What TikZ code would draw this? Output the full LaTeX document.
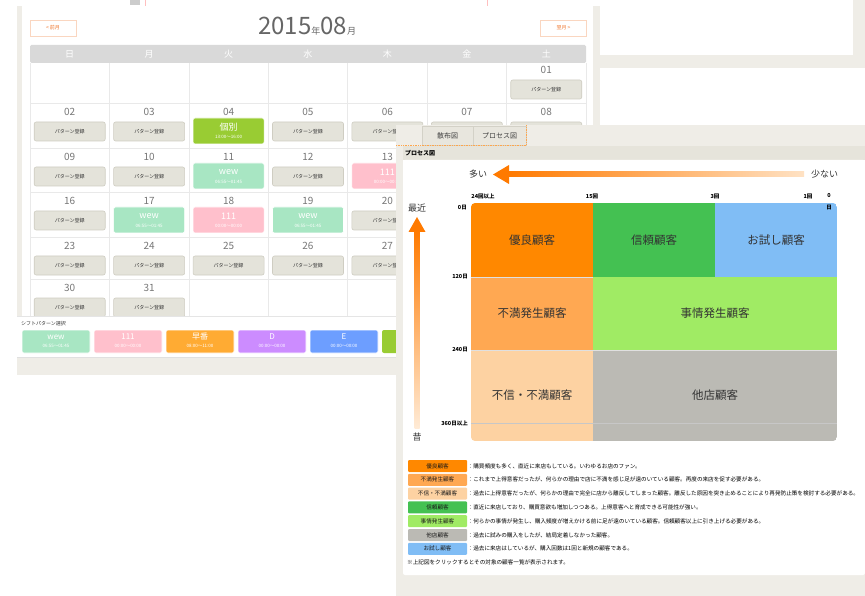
\documentclass[tikz,border=0pt]{standalone}
\usepackage{fontspec}
\setmainfont{Noto Sans CJK JP}
\newcommand{\fs}[1]{\fontsize{#1}{#1}\selectfont}
\definecolor{beige}{HTML}{EFEDE7}
\definecolor{gridc}{HTML}{E9E9E9}
\definecolor{hdr}{HTML}{D9D9D9}
\definecolor{btnfill}{HTML}{E4E3DA}
\definecolor{btnline}{HTML}{CFCDC2}
\definecolor{numgray}{HTML}{777777}
\definecolor{titlegray}{HTML}{666666}
\definecolor{navline}{HTML}{FAD6C0}
\definecolor{navtext}{HTML}{F07830}
\definecolor{cOrange}{HTML}{FF8800}
\definecolor{cGreen}{HTML}{44C152}
\definecolor{cBlue}{HTML}{80BDF5}
\definecolor{cOrangeB}{HTML}{FFA852}
\definecolor{cLime}{HTML}{A0EB64}
\definecolor{cPeach}{HTML}{FDD2A2}
\definecolor{cGray}{HTML}{BBBAB4}
\definecolor{mint}{HTML}{A8E6C3}
\definecolor{pinkc}{HTML}{FFC0CC}
\definecolor{apple}{HTML}{99CC33}
\definecolor{shiftorange}{HTML}{FFAB33}
\definecolor{purplec}{HTML}{CC8CFF}
\definecolor{bluec}{HTML}{6D9EFF}
\definecolor{arrowA}{HTML}{FF7A00}
\definecolor{arrowL}{HTML}{FFE2C4}
\definecolor{tabfill}{HTML}{E8E6DE}
\definecolor{tabline}{HTML}{D3D1C7}
\definecolor{hdrbeige}{HTML}{E6E4DB}
\definecolor{celltext}{HTML}{333333}
\begin{document}
\begin{tikzpicture}[x=1pt,y=-1pt,
  calnum/.style={font=\fs{10}, text=numgray, inner sep=0},
  dayname/.style={font=\fs{9}, text=white, inner sep=0},
  btn/.style={draw=btnline, fill=btnfill, rounded corners=2pt, line width=0.6pt, minimum width=71pt, minimum height=19pt, inner sep=0, font=\fs{5}, text=black!80},
  cbox/.style={rounded corners=2pt, minimum width=71pt, minimum height=26pt, inner sep=0, draw=white, line width=0.6pt},
  ctitle/.style={font=\fs{9}, text=white, inner sep=0},
  ctime/.style={font=\fs{4.5}, text=white, inner sep=0},
  navbtn/.style={draw=navline, fill=white, minimum width=46pt, minimum height=16pt, inner sep=0, font=\fs{5}, text=navtext, line width=0.6pt},
  sbox/.style={rounded corners=2pt, minimum width=68pt, minimum height=23pt, inner sep=0, draw=white, line width=0.6pt},
  tabst/.style={draw=tabline, fill=tabfill, minimum height=19pt, inner sep=0, font=\fs{7}, text=black!75, line width=0.5pt},
  celltxt/.style={font=\fs{11.5}, text=celltext, inner sep=0},
  axlab/.style={font=\fs{5.5}\bfseries, text=black, inner sep=0},
  sidelab/.style={font=\fs{9}, text=celltext, inner sep=0},
  legbox/.style={minimum width=59pt, minimum height=12pt, inner sep=0, rounded corners=1pt, font=\fs{5.6}, text=black!90},
  legtxt/.style={font=\fs{5.6}, text=black, inner sep=0, anchor=west}
]
\useasboundingbox (0,0) rectangle (865,596);
\fill[white] (0,0) rectangle (865,596);
% page strips
\fill[beige] (17,6) rectangle (22,316);
\fill[beige] (593,6) rectangle (600,125);
\fill[beige] (853,0) rectangle (865,55);
\fill[beige] (600,55) rectangle (865,68);
\fill[black!20] (130,0) rectangle (140,5);
\draw[pink, line width=0.8pt] (145,0) -- (145,6);
\draw[pink, line width=0.8pt] (487,0) -- (487,6);
% title and navigation
\node[anchor=base west, inner sep=0, text=titlegray] (title) at (258,35) {\fs{24}2015\fs{9}年\fs{24}08\fs{9}月};
\node[navbtn] (prev) at (53,28) {< 前月};
\node[navbtn] (next) at (563.5,28) {翌月 >};
% header band
\fill[hdr, rounded corners=1.5pt] (30,45) rectangle (586,63);
\foreach \d [count=\i from 0] in {日,月,火,水,木,金,土}
  \node[dayname] (dn\i) at ({69.7+79.43*\i},54) {\d};
% grid lines
\foreach \yy in {103,148,192,237,279}
  \draw[gridc, line width=0.7pt] (30,\yy) -- (586,\yy);
\foreach \i in {0,...,7}
  \draw[gridc, line width=0.7pt] ({30+79.43*\i},63) -- ({30+79.43*\i},316);
% day numbers (those hidden by the overlay are left out)
\foreach \d/\T/\c in {01/61/6,
  02/103/0,03/103/1,04/103/2,05/103/3,06/103/4,07/103/5,08/103/6,
  09/148/0,10/148/1,11/148/2,12/148/3,13/148/4,
  16/192/0,17/192/1,18/192/2,19/192/3,20/192/4,
  23/237/0,24/237/1,25/237/2,26/237/3,27/237/4,
  30/279/0,31/279/1}
  \node[calnum] (n\d) at ({69.7+79.43*\c},{\T+9}) {\d};
% gray buttons
\foreach \T/\c in {61/6,
  103/0,103/1,103/3,103/4,
  148/0,148/1,148/3,
  192/0,192/4,
  237/0,237/1,237/2,237/3,237/4,
  279/0,279/1}
  \node[btn] (b\T-\c) at ({69.7+79.43*\c},{\T+28.5}) {パターン登録};
\foreach \c in {5,6}
  \node[btn] (b103-\c) at ({69.7+79.43*\c},131.5) {};
% coloured entries
\foreach \T/\c/\col/\t/\tm in {103/2/apple/個別/13:00～16:00,
  148/2/mint/wew/06:55～01:45, 148/4/pinkc/111/00:00～00:00,
  192/1/mint/wew/06:55～01:45, 192/2/pinkc/111/00:00～00:00,
  192/3/mint/wew/06:55～01:45}{
  \node[cbox, fill=\col] (e\T-\c) at ({69.7+79.43*\c},{\T+28}) {};
  \node[ctitle] (et\T-\c) at ({69.7+79.43*\c},{\T+24}) {\t};
  \node[ctime] (em\T-\c) at ({69.7+79.43*\c},{\T+33.5}) {\tm};
}
% shift pattern panel
\fill[white] (17,316) rectangle (396,357);
\draw[black!10, line width=0.6pt] (17,316) -- (396,316);
\fill[beige] (17,357) rectangle (396,375);
\draw[black!12, line width=0.6pt] (17,357) -- (396,357);
\node[anchor=west, font=\fs{5}, text=black!80, inner sep=0] (shiftlab) at (21,324) {シフトパターン選択};
\foreach \x/\col/\t/\tm in {22/mint/wew/06:55～01:45, 94/pinkc/111/00:00～00:00,
  166/shiftorange/早番/08:00～11:00, 238/purplec/D/00:00～00:00, 310/bluec/E/00:00～00:00}{
  \node[sbox, fill=\col] (s\x) at ({\x+34},341.5) {};
  \node[ctitle, font=\fs{8}] (st\x) at ({\x+34},337) {\t};
  \node[ctime] (sm\x) at ({\x+34},345.5) {\tm};
}
\fill[apple, rounded corners=2pt] (382,330) rectangle (420,353);
% ===== overlay panel =====
\fill[beige] (396,125) rectangle (865,596);
\node[tabst, minimum width=51pt] (tab1) at (447.5,135.5) {散布図};
\node[tabst, minimum width=53pt] (tab2) at (499.5,135.5) {プロセス図};
\draw[orange!70, densely dotted, line width=0.7pt] (396,145.5) -- (526,145.5) -- (526,125);
\fill[hdrbeige] (403,146) rectangle (865,160);
\node[anchor=west, font=\fs{6}\bfseries, text=black, inner sep=0] (ptitle) at (405,153) {プロセス図};
\fill[white, rounded corners=2pt] (403,160) rectangle (865,575);
\fill[white] (403,160) rectangle (865,570);
% horizontal arrow
\fill[arrowA] (493,174.5) -- (509,165) -- (509,184) -- cycle;
\shade[left color=arrowA, right color=arrowL] (508,172) rectangle (804,177);
\node[sidelab] (many) at (478,174) {多い};
\node[sidelab] (few) at (824.5,174) {少ない};
% vertical arrow
\fill[arrowA] (417,217) -- (408.5,232) -- (425.5,232) -- cycle;
\shade[top color=arrowA, bottom color=arrowL!70!white] (414.5,231) rectangle (419.5,428);
\node[sidelab] (recent) at (417,208) {最近};
\node[sidelab] (past) at (417,437) {昔};
% axis labels
\node[axlab] (t24) at (483,196) {24回以上};
\node[axlab] (t15) at (592,196) {15回};
\node[axlab] (t3) at (715,196) {3回};
\node[axlab] (t1) at (808,196) {1回};
\node[axlab] (t0) at (829,196) {0};
\node[axlab, anchor=east] (d0) at (467,207.5) {0日};
\node[axlab, anchor=east] (d120) at (468,277) {120日};
\node[axlab, anchor=east] (d240) at (468,350) {240日};
\node[axlab, anchor=east] (d360) at (468,423) {360日以上};
% matrix
\begin{scope}
\clip[rounded corners=4pt] (471,203) rectangle (837,441);
\fill[cOrange] (471,203) rectangle (593,277);
\fill[cGreen] (593,203) rectangle (715,277);
\fill[cBlue] (715,203) rectangle (837,277);
\fill[cOrangeB] (471,277) rectangle (593,350);
\fill[cLime] (593,277) rectangle (837,350);
\fill[cPeach] (471,350) rectangle (593,441);
\fill[cGray] (593,350) rectangle (837,441);
\draw[black!12, line width=0.4pt] (471,277) -- (593,277);
\draw[black!12, line width=0.4pt] (471,350) -- (837,350);
\draw[black!22, line width=0.5pt] (471,423) -- (837,423);
\end{scope}
\node[axlab] (mark0) at (829,208) {日};
\node[celltxt] (g1) at (532,240) {優良顧客};
\node[celltxt] (g2) at (654,240) {信頼顧客};
\node[celltxt] (g3) at (776,240) {お試し顧客};
\node[celltxt] (g4) at (532,313.5) {不満発生顧客};
\node[celltxt] (g5) at (715,313.5) {事情発生顧客};
\node[celltxt] (g6) at (532,395.5) {不信・不満顧客};
\node[celltxt] (g7) at (715,395.5) {他店顧客};
% legend
\foreach \col/\lab/\txt [count=\i from 0] in {
  cOrange/優良顧客/：購買頻度も多く、直近に来店もしている。いわゆるお店のファン。,
  cOrangeB/不満発生顧客/：これまで上得意客だったが、何らかの理由で店に不満を感じ足が遠のいている顧客。再度の来店を促す必要がある。,
  cPeach/不信・不満顧客/：過去に上得意客だったが、何らかの理由で完全に店から離反してしまった顧客。離反した原因を突き止めることにより再発防止策を検討する必要がある。,
  cGreen/信頼顧客/：直近に来店しており、購買意欲も増加しつつある。上得意客へと育成できる可能性が強い。,
  cLime/事情発生顧客/：何らかの事情が発生し、購入頻度が増えかける前に足が遠のいている顧客。信頼顧客以上に引き上げる必要がある。,
  cGray/他店顧客/：過去に試みの購入をしたが、結局定着しなかった顧客。,
  cBlue/お試し顧客/：過去に来店はしているが、購入回数は1回と新規の顧客である。}{
  \node[legbox, fill=\col] (lg\i) at (437.5,{466+13.8*\i}) {\lab};
  \node[legtxt] (lt\i) at (467.5,{466+13.8*\i}) {\txt};
}
\node[legtxt] (note) at (407,562) {※上記図をクリックするとその対象の顧客一覧が表示されます。};
\end{tikzpicture}
\end{document}
